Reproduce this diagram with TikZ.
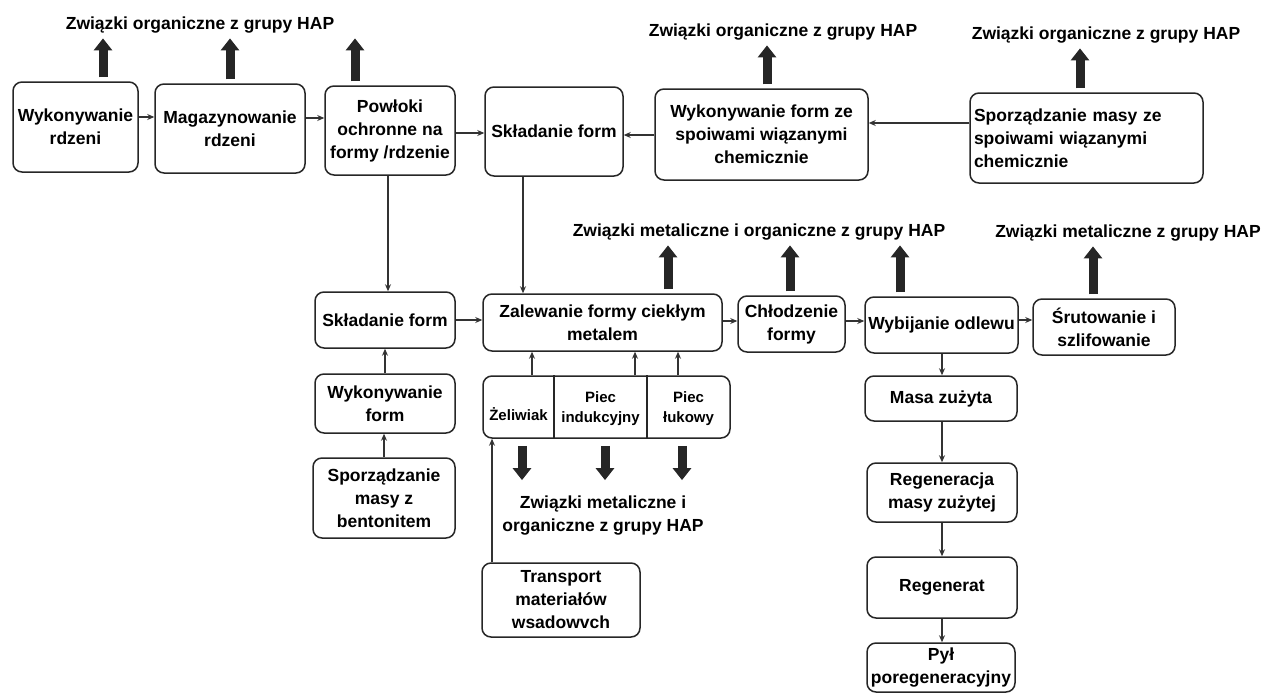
\documentclass[tikz,border=0pt]{standalone}
\usepackage{fontspec}
\setmainfont{Liberation Sans}
\usetikzlibrary{arrows.meta, positioning}
\tikzstyle{proc}=[draw=black!85,line width=1.5pt,rounded corners=9pt,align=center,inner sep=1pt,font=\bfseries\fontsize{17.5}{23}\selectfont]
\tikzstyle{furn}=[align=center,inner sep=0pt,font=\bfseries\fontsize{15}{20}\selectfont]
\tikzstyle{emis}=[align=center,inner sep=0pt,font=\bfseries\fontsize{17.5}{23}\selectfont]
\tikzstyle{hap}=[black!85,line width=9pt,shorten <=4pt,shorten >=5pt,-{Triangle[length=12pt,width=18pt]}]
\tikzstyle{flow}=[black!80,line width=1.1pt,-{Stealth[length=7pt,width=6pt]}]

\begin{document}
\begin{tikzpicture}[x=1pt,y=-1pt]
    \useasboundingbox (0,0) rectangle (1266,693);
    \foreach \n/\x/\y/\w/\h/\txt in {wr/75.5/127/125/90/{Wykonywanie\\rdzeni}, mr/230/128.5/150/89/{Magazynowanie\\rdzeni},
        po/390/130.5/130/89/{Powłoki\\ochronne na\\formy /rdzenie}, sf1/554/131.5/138/89/{Składanie form},
        wf1/761.5/134.5/213/91/{Wykonywanie form ze\\spoiwami wiązanymi\\chemicznie},
        sf2/385/320/140/56/{Składanie form}, zal/602.5/322.5/239/57/{Zalewanie formy ciekłym\\metalem},
        chl/791.5/324/107/56/{Chłodzenie\\formy}, wyb/941.5/325/153/56/{Wybijanie odlewu},
        sru/1104/327/142/56/{Śrutowanie i\\szlifowanie}, wf2/385/403.5/140/59/{Wykonywanie\\form},
        sb/384/498/142/80/{Sporządzanie\\masy z\\bentonitem}, tr/561/600/158/74/{Transport\\materiałów\\wsadowvch},
        mz/941/398.5/152/45/{Masa zużyta}, reg/942/492.5/150/59/{Regeneracja\\masy zużytej},
        rgt/942/587.5/150/61/{Regenerat}, pyl/941/667.5/148/49/{Pył\\poregeneracyjny}}
        \node[proc,minimum width=\w pt,minimum height=\h pt] (\n) at (\x,\y) {\txt};
    \node[proc,align=left,text width=225pt,minimum width=233pt,minimum height=90pt] (sm1) at (1086.5,138) {Sporządzanie masy ze\\spoiwami wiązanymi\\chemicznie};
    \node[proc,minimum width=247pt,minimum height=62pt] (pie) at (606.5,407) {};
    \foreach \x in {554,647} \draw[black!85,line width=1.5pt] (pie.north -| \x,0) -- (pie.south -| \x,0);
    \node[furn] (zel) at (518.5,414) {Żeliwiak};
    \node[furn] (ind) at (600.5,409) {Piec\\indukcyjny};
    \node[furn] (luk) at (688.5,409) {Piec\\łukowy};

    \node[emis] (h1) at (200,25) {Związki organiczne z grupy HAP};
    \node[emis] (h2) at (783,32) {Związki organiczne z grupy HAP};
    \node[emis] (h3) at (1106,35) {Związki organiczne z grupy HAP};
    \node[emis] (h4) at (759,232) {Związki metaliczne i organiczne z grupy HAP};
    \node[emis] (h5) at (1128,233) {Związki metaliczne z grupy HAP};
    \node[emis] (h6) at (603,516) {Związki metaliczne i\\organiczne z grupy HAP};

    \draw[flow] (wr.east |- 0,117) -- (mr.west |- 0,117);
    \draw[flow] (mr.east |- 0,118) -- (po.west |- 0,118);
    \draw[flow] (po.east |- 0,133) -- (sf1.west |- 0,133);
    \draw[flow] (wf1.west |- 0,135) -- (sf1.east |- 0,135);
    \draw[flow] (sm1.west |- 0,123) -- (wf1.east |- 0,123);
    \draw[flow] (po.south -| 388,0) -- (sf2.north -| 388,0);
    \draw[flow] (sf1.south -| 523,0) -- (zal.north -| 523,0);
    \draw[flow] (sf2.east) -- (sf2.east -| zal.west);
    \draw[flow] (zal.east |- 0,321) -- (chl.west |- 0,321);
    \draw[flow] (chl.east |- 0,321) -- (wyb.west |- 0,321);
    \draw[flow] (wyb.east |- 0,320) -- (sru.west |- 0,320);
    \draw[flow] (wf2.north) -- (wf2.north |- sf2.south);
    \draw[flow] (sb.north) -- (sb.north |- wf2.south);
    \draw[flow] (tr.north -| 492,0) -- (pie.south -| 492,0);
    \foreach \x in {532,635,678} \draw[flow] (pie.north -| \x,0) -- (zal.south -| \x,0);
    \draw[flow] (wyb.south -| 942,0) -- (mz.north -| 942,0);
    \foreach \a/\b in {mz/reg, reg/rgt, rgt/pyl} \draw[flow] (\a.south -| 942,0) -- (\b.north -| 942,0);

    \foreach \n/\x in {wr/103, mr/230, po/355} \draw[hap] (\n.north -| \x,0) -- (h1.south -| \x,0);
    \draw[hap] (wf1.north -| 767,0) -- (h2.south -| 767,0);
    \draw[hap] (sm1.north -| 1080,0) -- (h3.south -| 1080,0);
    \foreach \n/\x in {zal/668, chl/790, wyb/900} \draw[hap] (\n.north -| \x,0) -- (h4.south -| \x,0);
    \draw[hap] (sru.north -| 1093,0) -- (h5.south -| 1093,0);
    \foreach \x in {522,605,682} \draw[hap,shorten <=7pt,shorten >=16pt] (pie.south -| \x,0) -- (h6.north -| \x,0);
\end{tikzpicture}
\end{document}
